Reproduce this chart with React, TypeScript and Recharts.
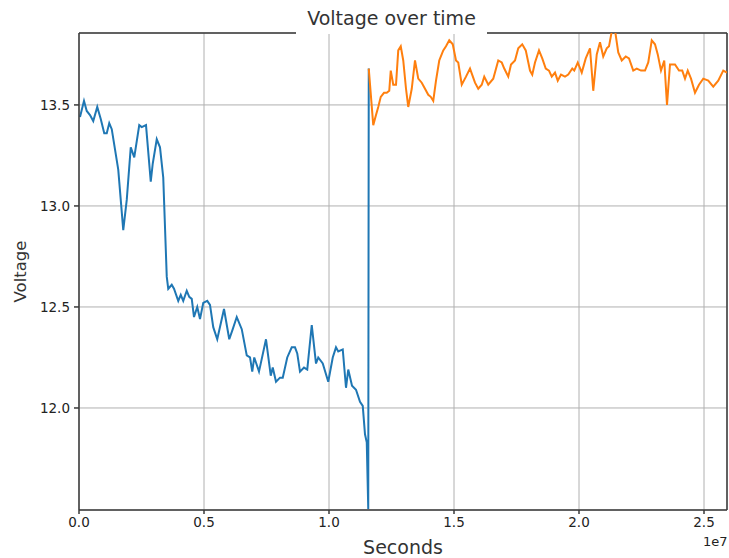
import { CartesianGrid, Line, LineChart, ReferenceLine, XAxis, YAxis } from "recharts";

// time in units of 1e7 seconds, voltage in volts
const blueTime = [
  0.004, 0.02, 0.031, 0.044, 0.057, 0.073, 0.087, 0.101, 0.111, 0.121, 0.131, 0.144, 0.157, 0.177, 0.191, 0.207,
  0.221, 0.241, 0.251, 0.268, 0.287, 0.295, 0.311, 0.324, 0.337, 0.351, 0.357, 0.371, 0.38, 0.397, 0.407, 0.417,
  0.431, 0.441, 0.451, 0.46, 0.473, 0.484, 0.497, 0.513, 0.524, 0.537, 0.553, 0.58, 0.601, 0.615, 0.631, 0.651,
  0.671, 0.684, 0.693, 0.701, 0.72, 0.748, 0.767, 0.775, 0.788, 0.804, 0.815, 0.833, 0.851, 0.864, 0.873, 0.884,
  0.9, 0.913, 0.931, 0.948, 0.957, 0.975, 0.997, 1.015, 1.028, 1.037, 1.055, 1.068, 1.077, 1.092, 1.108, 1.124,
  1.135, 1.144, 1.151, 1.157, 1.159,
];
const blueVolt = [
  13.44, 13.52, 13.47, 13.45, 13.42, 13.49, 13.43, 13.36, 13.36, 13.41, 13.38, 13.28, 13.18, 12.88, 13.03, 13.29,
  13.24, 13.4, 13.39, 13.4, 13.12, 13.21, 13.33, 13.29, 13.14, 12.65, 12.59, 12.61, 12.59, 12.53, 12.56, 12.53,
  12.58, 12.55, 12.54, 12.45, 12.5, 12.44, 12.52, 12.53, 12.51, 12.4, 12.34, 12.49, 12.34, 12.39, 12.45, 12.39,
  12.26, 12.25, 12.18, 12.25, 12.18, 12.34, 12.16, 12.2, 12.13, 12.15, 12.15, 12.25, 12.3, 12.3, 12.27, 12.18,
  12.2, 12.19, 12.41, 12.22, 12.25, 12.22, 12.13, 12.25, 12.3, 12.28, 12.29, 12.1, 12.19, 12.11, 12.09, 12.03,
  12.01, 11.87, 11.83, 11.5, 13.68,
];

const orangeTime = [
  1.159, 1.177, 1.188, 1.197, 1.207, 1.22, 1.231, 1.241, 1.247, 1.257, 1.268, 1.277, 1.287, 1.297, 1.308, 1.317,
  1.331, 1.344, 1.357, 1.371, 1.384, 1.397, 1.407, 1.417, 1.428, 1.441, 1.457, 1.468, 1.481, 1.495, 1.508, 1.517,
  1.531, 1.548, 1.564, 1.584, 1.597, 1.611, 1.621, 1.637, 1.657, 1.677, 1.691, 1.701, 1.717, 1.728, 1.744, 1.757,
  1.773, 1.787, 1.804, 1.813, 1.824, 1.84, 1.853, 1.867, 1.88, 1.891, 1.904, 1.915, 1.928, 1.944, 1.957, 1.973,
  1.981, 1.995, 2.011, 2.027, 2.044, 2.057, 2.071, 2.084, 2.097, 2.111, 2.12, 2.132, 2.144, 2.157, 2.171, 2.187,
  2.2, 2.217, 2.231, 2.248, 2.264, 2.277, 2.291, 2.304, 2.315, 2.328, 2.341, 2.352, 2.364, 2.384, 2.4, 2.413,
  2.424, 2.435, 2.448, 2.464, 2.48, 2.497, 2.517, 2.537, 2.557, 2.577, 2.592,
];
const orangeVolt = [
  13.68, 13.4, 13.45, 13.49, 13.54, 13.56, 13.56, 13.57, 13.67, 13.6, 13.6, 13.77, 13.79, 13.72, 13.58, 13.49,
  13.58, 13.72, 13.63, 13.61, 13.58, 13.55, 13.54, 13.52, 13.62, 13.72, 13.77, 13.79, 13.82, 13.8, 13.72, 13.71,
  13.6, 13.64, 13.68, 13.61, 13.58, 13.6, 13.64, 13.6, 13.63, 13.72, 13.71, 13.68, 13.64, 13.7, 13.72, 13.78,
  13.8, 13.77, 13.67, 13.65, 13.71, 13.77, 13.73, 13.68, 13.67, 13.64, 13.66, 13.62, 13.65, 13.64, 13.65, 13.68,
  13.67, 13.71, 13.66, 13.73, 13.78, 13.57, 13.75, 13.81, 13.74, 13.78, 13.79, 13.87, 13.87, 13.76, 13.72, 13.74,
  13.73, 13.67, 13.68, 13.67, 13.67, 13.71, 13.82, 13.8, 13.75, 13.67, 13.72, 13.5, 13.7, 13.7, 13.67, 13.67,
  13.63, 13.67, 13.63, 13.56, 13.6, 13.63, 13.62, 13.59, 13.62, 13.67, 13.66,
];

const xTicks = [0, 0.5, 1.0, 1.5, 2.0, 2.5];
const yTicks = [12.0, 12.5, 13.0, 13.5];

const X_MAX = 2.592;
const Y_MIN = 11.495;
const Y_MAX = 13.856;

const FONT = "DejaVu Sans, sans-serif";
const SPINE = "#3a3a3a";

const blueData = blueTime.map((t, i) => ({ t, v: blueVolt[i] }));
const orangeData = orangeTime.map((t, i) => ({ t, v: orangeVolt[i] }));

export default function App() {
  return (
    <div style={{ position: "absolute", left: 0, top: 0, width: 729, height: 558, background: "#fff", fontFamily: FONT }}>
      <LineChart width={729} height={558} margin={{ top: 33, right: 2, bottom: 0, left: 0 }}>
        <CartesianGrid stroke="#b0b0b0" strokeWidth={1} />
        <XAxis
          type="number"
          dataKey="t"
          domain={[0, X_MAX]}
          ticks={xTicks}
          allowDataOverflow
          height={48}
          tickFormatter={(v: number) => v.toFixed(1)}
          tick={{ fontSize: 13.5, fill: "#222", fontFamily: FONT }}
          tickSize={4}
          tickMargin={3}
          stroke={SPINE}
          strokeWidth={1.5}
          label={{ value: "Seconds", position: "insideBottom", offset: 4, fontSize: 19, fill: "#333", fontFamily: FONT }}
        />
        <YAxis
          type="number"
          dataKey="v"
          domain={[Y_MIN, Y_MAX]}
          ticks={yTicks}
          allowDataOverflow
          width={79}
          tickFormatter={(v: number) => v.toFixed(1)}
          tick={{ fontSize: 13.5, fill: "#222", fontFamily: FONT }}
          tickSize={5}
          tickMargin={4}
          stroke={SPINE}
          strokeWidth={1.5}
          label={{
            value: "Voltage",
            angle: -90,
            position: "insideLeft",
            offset: 20,
            fontSize: 16.5,
            fill: "#333",
            fontFamily: FONT,
            style: { textAnchor: "middle" },
          }}
        />
        <ReferenceLine y={Y_MAX} stroke={SPINE} strokeWidth={1.5} />
        <ReferenceLine x={X_MAX} stroke={SPINE} strokeWidth={1.5} />
        <Line data={blueData} dataKey="v" stroke="#1f77b4" strokeWidth={2} dot={false} isAnimationActive={false} />
        <Line data={orangeData} dataKey="v" stroke="#ff7f0e" strokeWidth={2} dot={false} isAnimationActive={false} />
      </LineChart>
      <div
        style={{
          position: "absolute",
          left: 296,
          top: 0,
          width: 191,
          height: 34,
          background: "#fff",
          textAlign: "center",
          fontSize: 19,
          lineHeight: "36px",
          color: "#333",
        }}
      >
        Voltage over time
      </div>
      <div style={{ position: "absolute", left: 703, top: 534, fontSize: 13, color: "#222" }}>1e7</div>
    </div>
  );
}
